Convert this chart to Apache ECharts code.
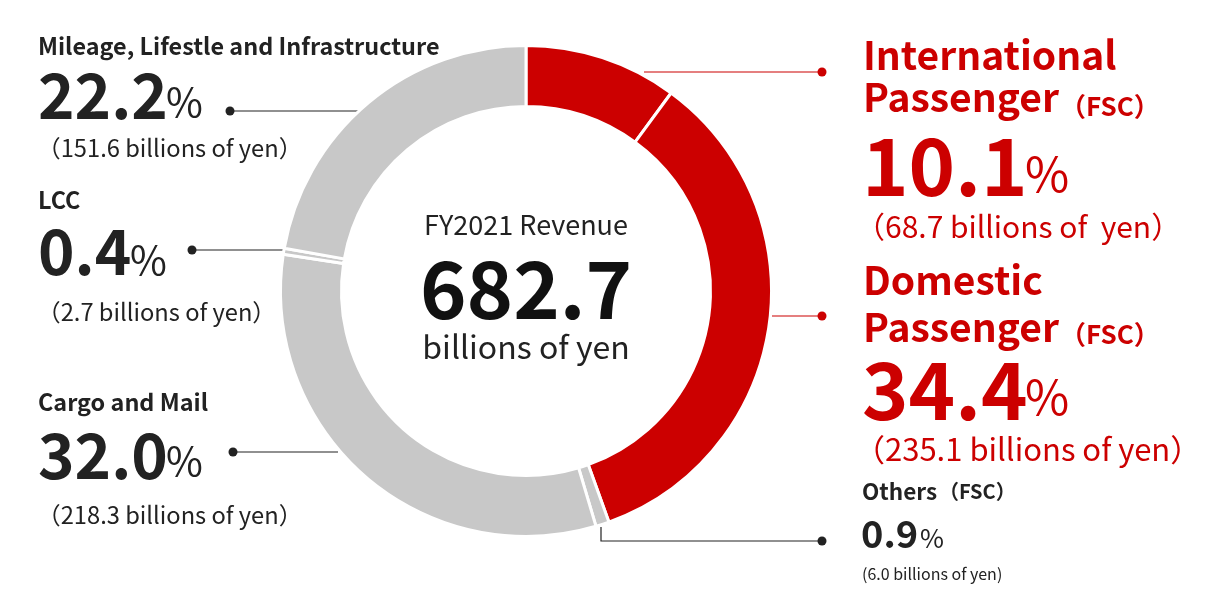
<!DOCTYPE html>
<html><head><meta charset="utf-8">
<script src="https://cdn.jsdelivr.net/npm/echarts@6/dist/echarts.min.js"></script>
<style>html,body{margin:0;padding:0;background:#fff}#c{width:1224px;height:612px}</style>
</head><body><div id="c"></div>
<script>
// ---- data ----
const categories = ['International Passenger (FSC)', 'Domestic Passenger (FSC)', 'Others (FSC)', 'Cargo and Mail', 'LCC', 'Mileage, Lifestle and Infrastructure'];
const revenue = [68.7, 235.1, 6.0, 218.3, 2.7, 151.6];           // billions of yen
const shareText = ['10.1', '34.4', '0.9', '32.0', '0.4', '22.2']; // % labels
const amountText = ['（68.7 billions of  yen）', '（235.1 billions of yen）', '(6.0 billions of yen)', '（218.3 billions of yen）', '（2.7 billions of yen）', '（151.6 billions of yen）'];
const centerTitle = 'FY2021 Revenue';
const centerTotal = '682.7';
const centerUnit = 'billions of yen';

const RED = '#cc0000', GRAY = '#c8c8c8', DARK = '#222222';
const sliceColors = [RED, RED, GRAY, GRAY, GRAY, GRAY];
const F = '"Noto Sans CJK JP","Noto Sans",sans-serif';

function txt(x, y, text, size, weight, fill, align) {
  return { type: 'text', x: x, y: y, silent: true,
    style: { text: text, font: weight + ' ' + size + 'px ' + F, fill: fill,
      textAlign: align || 'left', textVerticalAlign: 'middle' } };
}
function dot(x, y, fill) {
  return { type: 'circle', shape: { cx: x, cy: y, r: 4.5 }, style: { fill: fill }, silent: true };
}
function line(pts, stroke) {
  return { type: 'polyline', shape: { points: pts }, style: { stroke: stroke, lineWidth: 1.2, fill: null }, silent: true };
}

const graphics = [
  // center
  txt(526, 225, centerTitle, 27, 'normal', DARK, 'center'),
  txt(526, 289, centerTotal, 79, 'bold', '#111', 'center'),
  txt(526, 347, centerUnit, 32, 'normal', DARK, 'center'),

  // Mileage
  txt(38, 46.5, categories[5], 23.4, 'bold', DARK),
  txt(38, 95, shareText[5], 62, 'bold', DARK),
  txt(166, 102, '%', 40, 'normal', DARK),
  txt(37, 147.5, amountText[5], 23.7, 'normal', DARK),
  line([[230, 111], [359, 111]], DARK), dot(230, 111, DARK),

  // LCC
  txt(38, 200, categories[4], 23.4, 'bold', DARK),
  txt(38, 251, shareText[4], 62, 'bold', DARK),
  txt(130, 260, '%', 40, 'normal', DARK),
  txt(37, 311.5, amountText[4], 23.7, 'normal', DARK),
  line([[192, 250], [284, 250]], DARK), dot(192, 250, DARK),

  // Cargo
  txt(38, 402.5, categories[3], 23.4, 'bold', DARK),
  txt(38, 455, shareText[3], 62, 'bold', DARK),
  txt(166, 461, '%', 40, 'normal', DARK),
  txt(37, 515, amountText[3], 23.7, 'normal', DARK),
  line([[233, 452], [338, 452]], DARK), dot(233, 452, DARK),

  // International
  txt(863, 55, 'International', 39, 'bold', RED),
  txt(863, 97.5, 'Passenger', 39, 'bold', RED),
  txt(1060, 106, '（FSC）', 26, 'bold', RED),
  txt(862, 166, shareText[0], 79, 'bold', RED),
  txt(1025, 174, '%', 48, 'normal', RED),
  txt(855, 226.5, amountText[0], 30, 'normal', RED),
  line([[644, 72], [822, 72]], RED), dot(822, 72, RED),

  // Domestic
  txt(863, 280.5, 'Domestic', 39, 'bold', RED),
  txt(863, 327.5, 'Passenger', 39, 'bold', RED),
  txt(1060, 334, '（FSC）', 26, 'bold', RED),
  txt(862, 389.5, shareText[1], 79, 'bold', RED),
  txt(1025, 397, '%', 48, 'normal', RED),
  txt(854, 449, amountText[1], 31, 'normal', RED),
  line([[772, 316], [822, 316]], RED), dot(822, 316, RED),

  // Others
  txt(862, 491, 'Others', 22.5, 'bold', DARK),
  txt(939, 491, '（FSC）', 20, 'bold', DARK),
  txt(861, 534, shareText[2], 38, 'bold', DARK),
  txt(920, 538, '%', 26, 'normal', DARK),
  txt(862, 574, amountText[2], 16, 'normal', DARK),
  line([[601, 527], [601, 541], [822, 541]], DARK), dot(822, 541, DARK)
];

const chart = echarts.init(document.getElementById('c'), null, { renderer: 'canvas' });
chart.setOption({
  animation: false,
  backgroundColor: '#fff',
  series: [{
    type: 'pie',
    center: [526, 291],
    radius: [184.5, 245.5],
    startAngle: 90,
    clockwise: true,
    silent: true,
    label: { show: false },
    labelLine: { show: false },
    itemStyle: { borderColor: '#fff', borderWidth: 3 },
    data: categories.map((n, i) => ({ name: n, value: revenue[i], itemStyle: { color: sliceColors[i] } }))
  }],
  graphic: graphics
});
</script></body></html>
